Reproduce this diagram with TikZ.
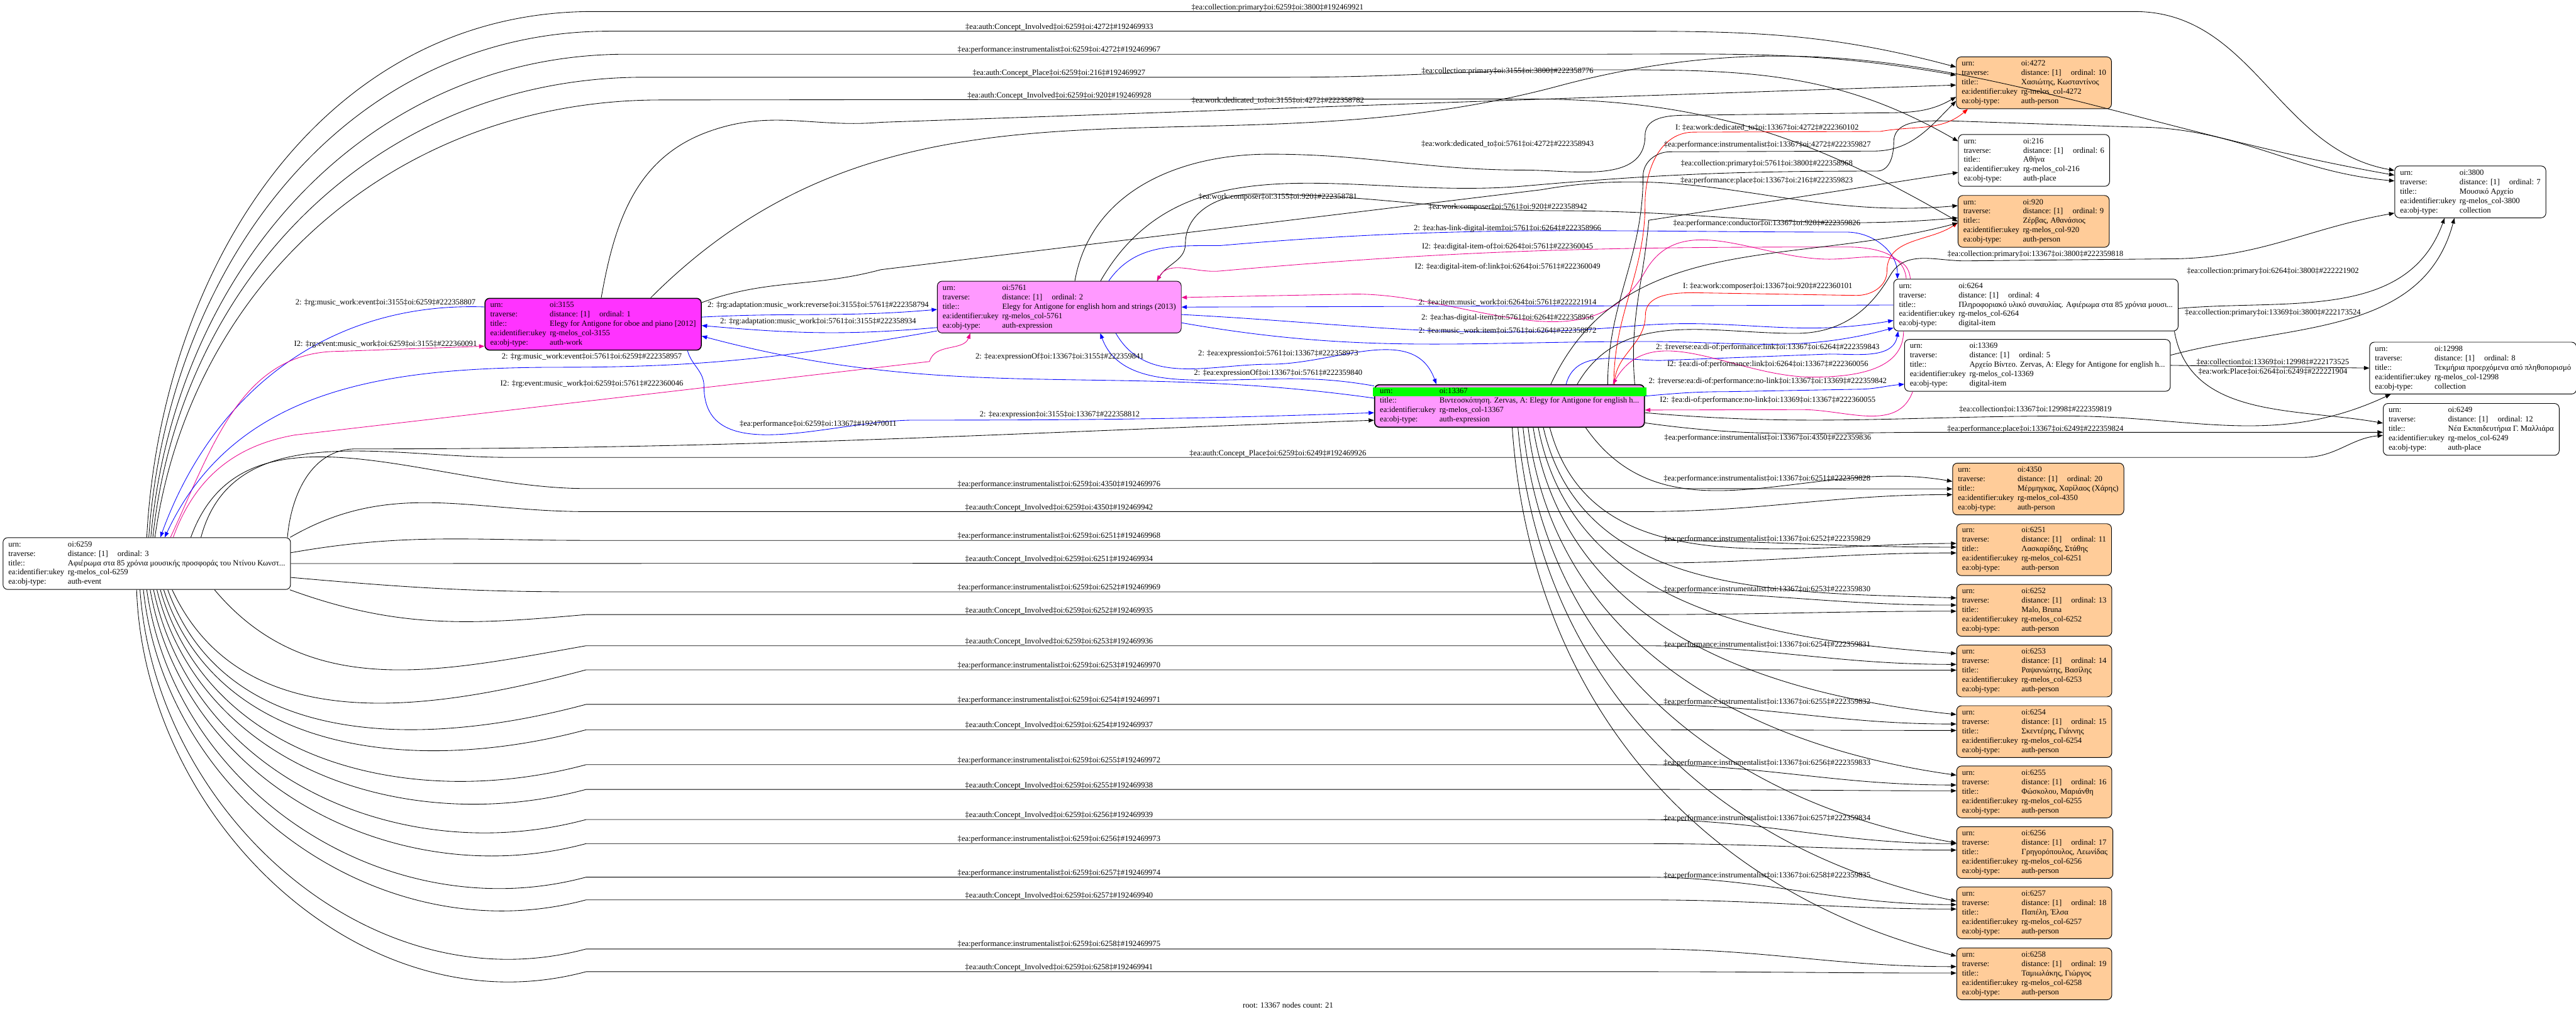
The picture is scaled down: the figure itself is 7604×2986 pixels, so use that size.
\documentclass[tikz,border=0pt]{standalone}
\usepackage{fontspec}
\setmainfont{Liberation Serif}
\usepackage{colortbl}
\usepackage{tikz}
\usetikzlibrary{positioning,calc,arrows.meta}

\definecolor{workfill}{HTML}{FF33FF}
\definecolor{exprfill}{HTML}{FF99FF}
\definecolor{personfill}{HTML}{FFCC99}
\definecolor{rootgreen}{HTML}{00FF00}

\newcommand{\recrows}[5]{%
  \begin{tabular}{@{}l@{\hspace{3pt}}l@{}}
    urn: & oi:#1\\
    traverse: & distance: [1]\hspace{8pt}ordinal: #2\\
    title:: & #3\\
    ea:identifier:ukey & rg-melos\_col-#4\\
    ea:obj-type: & #5
  \end{tabular}}

\begin{document}
\begin{tikzpicture}[x=0.01cm, y=0.01cm,
  font=\fontsize{6.66}{7.9}\selectfont,
  rec/.style={draw, rounded corners=4pt, anchor=north west, fill=white,
              inner xsep=4.5pt, inner ysep=2pt, line width=0.5pt},
  person/.style={rec, fill=personfill},
  lbl/.style={inner sep=0pt},
  link/.style={-{Triangle[length=4.5pt,width=3.4pt]}, line width=0.45pt},
  linkb/.style={link, blue},
  linkm/.style={link, magenta},
  linkr/.style={link, red}
]
\useasboundingbox (0,0) rectangle (7604,-2986);
\fill[white] (0,0) rectangle (7604,-2986);

% records
\node[rec] (n6259) at (8,-1586) {\recrows{6259}{3}{Αφιέρωμα στα 85 χρόνια μουσικής προσφοράς του Ντίνου Κωνστ...}{6259}{auth-event}};
\node[rec, fill=workfill, line width=0.8pt] (n3155) at (1430,-879) {\recrows{3155}{1}{Elegy for Antigone for oboe and piano [2012]}{3155}{auth-work}};
\node[rec, fill=exprfill] (n5761) at (2766,-829) {\recrows{5761}{2}{Elegy for Antigone for english horn and strings (2013)}{5761}{auth-expression}};
\node[rec, fill=exprfill, line width=0.9pt] (n13367) at (4056,-1134) {%
  \begin{tabular}{@{}l@{\hspace{3pt}}l@{}}
    \cellcolor{rootgreen}urn: & \cellcolor{rootgreen}oi:13367\\
    title:: & Βιντεοσκόπηση. Zervas, A: Elegy for Antigone for english h...\\
    ea:identifier:ukey & rg-melos\_col-13367\\
    ea:obj-type: & auth-expression
  \end{tabular}};
\node[person] (n4272) at (5774,-167) {\recrows{4272}{10}{Χασιώτης, Κωσταντίνος}{4272}{auth-person}};
\node[rec] (n216) at (5780,-396) {\recrows{216}{6}{Αθήνα}{216}{auth-place}};
\node[person] (n920) at (5779,-576) {\recrows{920}{9}{Ζέρβας, Αθανάσιος}{920}{auth-person}};
\node[rec] (n3800) at (7068,-489) {\recrows{3800}{7}{Μουσικό Αρχείο}{3800}{collection}};
\node[rec] (n6264) at (5589,-823) {\recrows{6264}{4}{Πληροφοριακό υλικό συναυλίας. Αφιέρωμα στα 85 χρόνια μουσι...}{6264}{digital-item}};
\node[rec] (n13369) at (5621,-1001) {\recrows{13369}{5}{Αρχείο Βίντεο. Zervas, A: Elegy for Antigone for english h...}{13369}{digital-item}};
\node[rec] (n12998) at (6994,-1009) {\recrows{12998}{8}{Τεκμήρια προερχόμενα από πληθοπορισμό}{12998}{collection}};
\node[rec] (n6249) at (7034,-1190) {\recrows{6249}{12}{Νέα Εκπαιδευτήρια Γ. Μαλλιάρα}{6249}{auth-place}};
\node[person] (n4350) at (5763,-1366) {\recrows{4350}{20}{Μέρμηγκας, Χαρίλαος (Χάρης)}{4350}{auth-person}};
\node[person] (n6251) at (5775,-1545) {\recrows{6251}{11}{Λασκαρίδης, Στάθης}{6251}{auth-person}};
\node[person] (n6252) at (5775,-1724) {\recrows{6252}{13}{Malo, Bruna}{6252}{auth-person}};
\node[person] (n6253) at (5775,-1903) {\recrows{6253}{14}{Ραψανιώτης, Βασίλης}{6253}{auth-person}};
\node[person] (n6254) at (5775,-2082) {\recrows{6254}{15}{Σκεντέρης, Γιάννης}{6254}{auth-person}};
\node[person] (n6255) at (5775,-2260) {\recrows{6255}{16}{Φώσκολου, Μαριάνθη}{6255}{auth-person}};
\node[person] (n6256) at (5775,-2439) {\recrows{6256}{17}{Γρηγορόπουλος, Λεωνίδας}{6256}{auth-person}};
\node[person] (n6257) at (5775,-2617) {\recrows{6257}{18}{Παπέλη, Έλσα}{6257}{auth-person}};
\node[person] (n6258) at (5775,-2797) {\recrows{6258}{19}{Ταμιωλάκης, Γιώργος}{6258}{auth-person}};
\node (caption) at (3802,-2967) {root: 13367 nodes count: 21};

% edges out of the event 6259, upper side
\draw[link] (n6259.north) to[out=87,in=180] (1750,-34) -- (6300,-34) to[out=0,in=170] ($(n3800.north west)+(0,-14)$);
\draw[link] ($(n6259.north)+(6,0)$) to[out=86,in=180] (1800,-92) -- (4700,-92) to[out=0,in=165] ($(n4272.north west)+(0,-31)$);
\draw[link] ($(n6259.north)+(12,0)$) to[out=85,in=180] (1850,-160) -- (4700,-160) to[out=0,in=170] ($(n4272.north west)+(0,-55)$);
\draw[link] ($(n6259.north)+(18,0)$) to[out=84,in=180] (1900,-228) -- (3800,-228) to[out=0,in=180] (4700,-206) to[out=0,in=150] ($(n216.north west)+(0,-21)$);
\draw[link] ($(n6259.north)+(24,0)$) to[out=82,in=180] (1950,-295) -- (4500,-292) to[out=0,in=150] ($(n920.north west)+(0,-78)$);
\draw[link] ($(n6259.north east)+(-10,0)$) to[out=85,in=180] (1050,-1325) to[out=0,in=182] ($(n13367.south west)+(0,22)$);
\draw[link] ($(n6259.north)+(160,0)$) to[out=75,in=180] (1500,-1350) -- (6800,-1350) to[out=0,in=185] ($(n6249.north west)+(0,-95)$);

% edges out of the event 6259, to the persons
\draw[link] ($(n6259.north)+(130,0)$) to[out=70,in=180] (1730,-1442) -- (4850,-1442) to[out=0,in=180] ($(n4350.north west)+(0,-77)$);
\draw[link] ($(n6259.north east)+(-2,0)$) to[out=30,in=180] (1730,-1510) -- (4850,-1510) to[out=0,in=180] ($(n4350.north west)+(0,-94)$);
\draw[link] ($(n6259.east)+(0,32)$) to[out=10,in=180] (1730,-1595) -- (4850,-1595) to[out=0,in=180] ($(n6251.north west)+(0,-70)$);
\draw[link] (n6259.east) -- (4850,-1662) to[out=0,in=180] ($(n6251.north west)+(0,-87)$);
\draw[link] ($(n6259.east)+(0,-41)$) to[out=-5,in=180] (1730,-1747) -- (4850,-1747) to[out=0,in=180] ($(n6252.north west)+(0,-62)$);
\draw[link] ($(n6259.south east)+(-3,0)$) to[out=-20,in=185] (1730,-1814) -- (4850,-1814) to[out=0,in=180] ($(n6252.north west)+(0,-80)$);
\draw[link] ($(n6259.south)+(200,0)$) to[out=-50,in=190] (1730,-1906) -- (4850,-1906) to[out=0,in=180] ($(n6253.north west)+(0,-58)$);
\draw[link] ($(n6259.south)+(75,0)$) to[out=-65,in=195] (1730,-1977) -- (4850,-1977) to[out=0,in=180] ($(n6253.north west)+(0,-75)$);
\draw[link] ($(n6259.south)+(62,0)$) to[out=-70,in=195] (1730,-2079) -- (4850,-2079) to[out=0,in=180] ($(n6254.north west)+(0,-55)$);
\draw[link] ($(n6259.south)+(50,0)$) to[out=-72,in=195] (1730,-2154) -- (4850,-2154) to[out=0,in=180] ($(n6254.north west)+(0,-74)$);
\draw[link] ($(n6259.south)+(40,0)$) to[out=-74,in=195] (1730,-2257) -- (4850,-2257) to[out=0,in=180] ($(n6255.north west)+(0,-57)$);
\draw[link] ($(n6259.south)+(30,0)$) to[out=-76,in=195] (1730,-2330) -- (4850,-2330) to[out=0,in=180] ($(n6255.north west)+(0,-74)$);
\draw[link] ($(n6259.south)+(20,0)$) to[out=-78,in=195] (1730,-2419) -- (4850,-2419) to[out=0,in=180] ($(n6256.north west)+(0,-51)$);
\draw[link] ($(n6259.south)+(10,0)$) to[out=-80,in=195] (1730,-2490) -- (4850,-2490) to[out=0,in=180] ($(n6256.north west)+(0,-70)$);
\draw[link] (n6259.south) to[out=-82,in=195] (1730,-2589) -- (4850,-2589) to[out=0,in=180] ($(n6257.north west)+(0,-53)$);
\draw[link] ($(n6259.south)+(-10,0)$) to[out=-84,in=195] (1730,-2656) -- (4850,-2656) to[out=0,in=180] ($(n6257.north west)+(0,-66)$);
\draw[link] ($(n6259.south)+(-20,0)$) to[out=-86,in=195] (1730,-2801) -- (4850,-2801) to[out=0,in=180] ($(n6258.north west)+(0,-56)$);
\draw[link] ($(n6259.south)+(-30,0)$) to[out=-88,in=195] (1730,-2868) -- (4850,-2868) to[out=0,in=180] ($(n6258.north west)+(0,-75)$);

% work 3155
\draw[link] ($(n3155.north)+(170,0)$) to[out=45,in=195] (4600,-254) to[out=15,in=170] ($(n3800.north west)+(0,-28)$);
\draw[link] ($(n3155.north)+(24,0)$) to[out=80,in=200] (2090,-389) to[out=20,in=185] (2600,-361) -- (4600,-291) -- ($(n4272.north west)+(0,-84)$);
\draw[link] ($(n3155.north east)+(0,-14)$) to[out=20,in=195] (2600,-796) -- (4550,-560) to[out=10,in=185] ($(n920.north west)+(0,-31)$);
\draw[linkb] ($(n3155.east)+(0,21)$) to[out=3,in=185] ($(n5761.west)+(0,-7)$);
\draw[linkb] ($(n5761.south west)+(0,17)$) to[out=185,in=-5] ($(n3155.east)+(0,-4)$);
\draw[linkb] ($(n13367.west)+(0,23)$) to[out=172,in=-15] ($(n3155.east)+(0,-35)$);
\draw[linkb] ($(n3155.south east)+(-42,0)$) to[out=-75,in=90] (2078,-1140) to[out=-90,in=180] (2700,-1240) to[out=0,in=182] ($(n13367.west)+(0,-20)$);
\draw[linkb] ($(n3155.west)+(0,51)$) to[out=178,in=70] ($(n6259.north)+(40,0)$);
\draw[linkm] ($(n6259.north)+(70,0)$) to[out=65,in=180] (1000,-1037) -- ($(n3155.south west)+(0,13)$);
\draw[linkb] ($(n5761.south west)+(0,7)$) to[out=190,in=0] (1658,-1084) to[out=180,in=65] ($(n6259.north)+(53,0)$);
\draw[linkm] ($(n6259.north)+(78,0)$) to[out=70,in=190] (870,-1284) -- (2744,-1067) to[out=75,in=-110] ($(n5761.south west)+(98,0)$);

% expression 5761
\draw[link] ($(n5761.north)+(46,0)$) to[out=80,in=180] (3748,-455) to[out=0,in=180] (4500,-502) to[out=0,in=-90] (4856,-400) to[out=90,in=180] (5000,-340) -- (5545,-333) to[out=0,in=210] ($(n4272.north west)+(0,-119)$);
\draw[link] ($(n5761.north)+(290,0)$) to[out=70,in=-90] (3499,-720) to[out=90,in=180] (3700,-573) to[out=0,in=180] (4600,-622) to[out=0,in=185] ($(n920.north west)+(0,-67)$);
\draw[link] ($(n5761.north)+(122,0)$) to[out=60,in=185] (4500,-549) to[out=5,in=180] (5540,-505) to[out=0,in=-90] (5590,-420) to[out=90,in=180] (5763,-357) -- (6300,-375) to[out=0,in=175] ($(n3800.north west)+(0,-45)$);
\draw[linkb] ($(n5761.north)+(146,0)$) to[out=55,in=180] (3600,-725) to[out=5,in=180] (5450,-685) to[out=0,in=90] ($(n6264.north west)+(12,0)$);
\draw[linkm] ($(n6264.north west)+(38,0)$) to[out=95,in=0] (5450,-729) to[out=180,in=5] (3600,-800) to[out=185,in=60] ($(n5761.north)+(288,0)$);
\draw[linkm] ($(n6264.north west)+(50,0)$) to[out=95,in=0] (5400,-765) to[out=180,in=60] (4857,-800) to[out=240,in=0] (4000,-868) -- ($(n5761.north east)+(0,-49)$);
\draw[linkb] (n6264.west) -- (n5761.east);
\draw[linkb] ($(n5761.east)+(0,-22)$) to[out=-3,in=185] (4824,-962) to[out=5,in=190] ($(n6264.south west)+(0,32)$);
\draw[linkb] ($(n5761.south east)+(0,31)$) to[out=-10,in=180] (4857,-1008) to[out=0,in=195] ($(n6264.south west)+(0,10)$);
\draw[linkb] ($(n5761.south)+(167,0)$) to[out=-60,in=180] (3750,-1075) to[out=0,in=110] ($(n13367.north west)+(184,0)$);
\draw[linkb] ($(n13367.north west)+(0,-5)$) to[out=170,in=0] (3560,-1122) to[out=180,in=-70] ($(n5761.south)+(121,0)$);

% root expression 13367
\draw[linkr] ($(n13367.north)+(308,0)$) to[out=90,in=-90] (4856,-600) to[out=90,in=180] (5000,-390) -- (5550,-388) to[out=10,in=220] ($(n4272.south west)+(35,0)$);
\draw[linkr] ($(n13367.north)+(310,0)$) to[out=90,in=-90] (4857,-930) to[out=90,in=180] (5000,-864) -- (5480,-872) to[out=0,in=-90] (5570,-800) to[out=90,in=215] ($(n920.north west)+(0,-81)$);
\draw[link] ($(n13367.north)+(290,0)$) to[out=90,in=-90] (4850,-520) to[out=90,in=180] (4930,-448) -- (5530,-446) to[out=0,in=225] ($(n4272.north west)+(0,-131)$);
\draw[link] ($(n13367.north east)+(-30,0)$) to[out=95,in=-95] (4867,-650) -- ($(n216.north west)+(0,-113)$);
\draw[link] ($(n13367.north)+(122,0)$) to[out=65,in=195] ($(n920.north west)+(0,-82)$);
\draw[link] ($(n13367.north)+(200,0)$) to[out=60,in=180] (5300,-984) to[out=0,in=-120] (5580,-812) to[out=60,in=180] (5800,-770) -- (6400,-764) to[out=0,in=190] ($(n3800.north west)+(0,-140)$);
\draw[linkb] ($(n13367.north)+(167,0)$) to[out=75,in=180] (4900,-1064) -- (5400,-1045) to[out=0,in=-100] ($(n6264.south west)+(14,0)$);
\draw[linkm] ($(n6264.south west)+(30,0)$) to[out=-90,in=0] (5350,-1113) to[out=180,in=60] ($(n13367.north)+(305,0)$);
\draw[linkb] ($(n13367.north east)+(0,-35)$) to[out=5,in=180] (5100,-1156) -- (5480,-1149) to[out=0,in=185] ($(n13369.north west)+(0,-133)$);
\draw[linkm] ($(n13369.south west)+(25,0)$) to[out=-110,in=0] (5320,-1209) -- ($(n13367.east)+(0,-12)$);
\draw[link] ($(n13367.east)+(0,-20)$) to[out=-5,in=180] (6100,-1228) to[out=0,in=-155] ($(n12998.south west)+(63,0)$);
\draw[link] ($(n13367.east)+(0,-50)$) to[out=-8,in=180] (5700,-1276) -- ($(n6249.north west)+(0,-86)$);
\draw[link] ($(n13367.south)+(225,0)$) to[out=-55,in=170] ($(n4350.north west)+(0,-55)$);
\draw[link] ($(n13367.south)+(119,0)$) to[out=-75,in=180] ($(n6251.north west)+(0,-59)$);
\draw[link] ($(n13367.south)+(100,0)$) to[out=-77,in=178] ($(n6252.north west)+(0,-41)$);
\draw[link] ($(n13367.south)+(85,0)$) to[out=-79,in=176] ($(n6253.north west)+(0,-26)$);
\draw[link] ($(n13367.south)+(70,0)$) to[out=-81,in=174] ($(n6254.north west)+(0,-27)$);
\draw[link] ($(n13367.south)+(55,0)$) to[out=-83,in=172] ($(n6255.north west)+(0,-28)$);
\draw[link] ($(n13367.south)+(40,0)$) to[out=-84,in=170] ($(n6256.north west)+(0,-49)$);
\draw[link] ($(n13367.south)+(25,0)$) to[out=-85,in=168] ($(n6257.north west)+(0,-43)$);
\draw[link] ($(n13367.south)+(8,0)$) to[out=-86,in=166] ($(n6258.north west)+(0,-25)$);

% digital items
\draw[link] ($(n6264.east)+(0,-10)$) to[out=5,in=-110] ($(n3800.south west)+(148,0)$);
\draw[link] ($(n13369.east)+(0,30)$) to[out=15,in=-105] ($(n3800.south west)+(177,0)$);
\draw[link] (n13369.east) -- (n12998.west);
\draw[link] ($(n6264.south east)+(-12,0)$) to[out=-80,in=170] ($(n6249.north west)+(0,-59)$);

% edge labels
\node[lbl] (l01) at (3771,-24) {‡ea:collection:primary‡oi:6259‡oi:3800‡\#192469921};
\node[lbl] (l02) at (3127,-81) {‡ea:auth:Concept\_Involved‡oi:6259‡oi:4272‡\#192469933};
\node[lbl] (l03) at (3126,-148) {‡ea:performance:instrumentalist‡oi:6259‡oi:4272‡\#192469967};
\node[lbl] (l04) at (3126,-216) {‡ea:auth:Concept\_Place‡oi:6259‡oi:216‡\#192469927};
\node[lbl] (l05) at (3127,-283) {‡ea:auth:Concept\_Involved‡oi:6259‡oi:920‡\#192469928};
\node[lbl] (l06) at (4450,-211) {‡ea:collection:primary‡oi:3155‡oi:3800‡\#222358776};
\node[lbl] (l07) at (3772,-297) {‡ea:work:dedicated\_to‡oi:3155‡oi:4272‡\#222358782};
\node[lbl] (l08) at (4450,-425) {‡ea:work:dedicated\_to‡oi:5761‡oi:4272‡\#222358943};
\node[lbl] (l09) at (3772,-582) {‡ea:work:composer‡oi:3155‡oi:920‡\#222358781};
\node[lbl] (l10) at (4451,-612) {‡ea:work:composer‡oi:5761‡oi:920‡\#222358942};
\node[lbl] (l11) at (4450,-674) {2: ‡ea:has-link-digital-item‡oi:5761‡oi:6264‡\#222358966};
\node[lbl] (l12) at (4450,-728) {I2: ‡ea:digital-item-of‡oi:6264‡oi:5761‡\#222360045};
\node[lbl] (l13) at (4450,-788) {I2: ‡ea:digital-item-of:link‡oi:6264‡oi:5761‡\#222360049};
\node[lbl] (l14) at (4450,-892) {2: ‡ea:item:music\_work‡oi:6264‡oi:5761‡\#222221914};
\node[lbl] (l15) at (4450,-939) {2: ‡ea:has-digital-item‡oi:5761‡oi:6264‡\#222358956};
\node[lbl] (l16) at (4450,-977) {2: ‡ea:music\_work:item‡oi:5761‡oi:6264‡\#222358972};
\node[lbl] (l17) at (3773,-1044) {2: ‡ea:expression‡oi:5761‡oi:13367‡\#222358973};
\node[lbl] (l18) at (3773,-1101) {2: ‡ea:expressionOf‡oi:13367‡oi:5761‡\#222359840};
\node[lbl] (l19) at (3128,-1054) {2: ‡ea:expressionOf‡oi:13367‡oi:3155‡\#222359841};
\node[lbl] (l20) at (3128,-1224) {2: ‡ea:expression‡oi:3155‡oi:13367‡\#222358812};
\node[lbl] (l21) at (2415,-1252) {‡ea:performance‡oi:6259‡oi:13367‡\#192470011};
\node[lbl] (l22) at (1138,-893) {2: ‡rg:music\_work:event‡oi:3155‡oi:6259‡\#222358807};
\node[lbl] (l23) at (1138,-1016) {I2: ‡rg:event:music\_work‡oi:6259‡oi:3155‡\#222360091};
\node[lbl] (l24) at (1747,-1053) {2: ‡rg:music\_work:event‡oi:5761‡oi:6259‡\#222358957};
\node[lbl] (l25) at (1747,-1134) {I2: ‡rg:event:music\_work‡oi:6259‡oi:5761‡\#222360046};
\node[lbl] (l26) at (2415,-902) {2: ‡rg:adaptation:music\_work:reverse‡oi:3155‡oi:5761‡\#222358794};
\node[lbl] (l27) at (2415,-949) {2: ‡rg:adaptation:music\_work‡oi:5761‡oi:3155‡\#222358934};
\node[lbl] (l28) at (5216,-377) {I: ‡ea:work:dedicated\_to‡oi:13367‡oi:4272‡\#222360102};
\node[lbl] (l29) at (5217,-428) {‡ea:performance:instrumentalist‡oi:13367‡oi:4272‡\#222359827};
\node[lbl] (l30) at (5215,-483) {‡ea:collection:primary‡oi:5761‡oi:3800‡\#222358968};
\node[lbl] (l31) at (5215,-533) {‡ea:performance:place‡oi:13367‡oi:216‡\#222359823};
\node[lbl] (l32) at (5215,-660) {‡ea:performance:conductor‡oi:13367‡oi:920‡\#222359826};
\node[lbl] (l33) at (5218,-846) {I: ‡ea:work:composer‡oi:13367‡oi:920‡\#222360101};
\node[lbl] (l34) at (5218,-1025) {2: ‡reverse:ea:di-of:performance:link‡oi:13367‡oi:6264‡\#222359843};
\node[lbl] (l35) at (5218,-1076) {I2: ‡ea:di-of:performance:link‡oi:6264‡oi:13367‡\#222360056};
\node[lbl] (l36) at (5218,-1126) {2: ‡reverse:ea:di-of:performance:no-link‡oi:13367‡oi:13369‡\#222359842};
\node[lbl] (l37) at (5218,-1181) {I2: ‡ea:di-of:performance:no-link‡oi:13369‡oi:13367‡\#222360055};
\node[lbl] (l38) at (5218,-1293) {‡ea:performance:instrumentalist‡oi:13367‡oi:4350‡\#222359836};
\node[lbl] (l39) at (6008,-750) {‡ea:collection:primary‡oi:13367‡oi:3800‡\#222359818};
\node[lbl] (l40) at (6709,-801) {‡ea:collection:primary‡oi:6264‡oi:3800‡\#222221902};
\node[lbl] (l41) at (6709,-923) {‡ea:collection:primary‡oi:13369‡oi:3800‡\#222173524};
\node[lbl] (l42) at (6709,-1069) {‡ea:collection‡oi:13369‡oi:12998‡\#222173525};
\node[lbl] (l43) at (6709,-1097) {‡ea:work:Place‡oi:6264‡oi:6249‡\#222221904};
\node[lbl] (l44) at (6008,-1208) {‡ea:collection‡oi:13367‡oi:12998‡\#222359819};
\node[lbl] (l45) at (6008,-1266) {‡ea:performance:place‡oi:13367‡oi:6249‡\#222359824};
\node[lbl] (l46) at (3772,-1340) {‡ea:auth:Concept\_Place‡oi:6259‡oi:6249‡\#192469926};
\node[lbl] (l47) at (3126,-1431) {‡ea:performance:instrumentalist‡oi:6259‡oi:4350‡\#192469976};
\node[lbl] (l48) at (3126,-1499) {‡ea:auth:Concept\_Involved‡oi:6259‡oi:4350‡\#192469942};
\node[lbl] (l49) at (3126,-1583) {‡ea:performance:instrumentalist‡oi:6259‡oi:6251‡\#192469968};
\node[lbl] (l50) at (3126,-1652) {‡ea:auth:Concept\_Involved‡oi:6259‡oi:6251‡\#192469934};
\node[lbl] (l51) at (3126,-1735) {‡ea:performance:instrumentalist‡oi:6259‡oi:6252‡\#192469969};
\node[lbl] (l52) at (3126,-1803) {‡ea:auth:Concept\_Involved‡oi:6259‡oi:6252‡\#192469935};
\node[lbl] (l53) at (3126,-1895) {‡ea:auth:Concept\_Involved‡oi:6259‡oi:6253‡\#192469936};
\node[lbl] (l54) at (3126,-1965) {‡ea:performance:instrumentalist‡oi:6259‡oi:6253‡\#192469970};
\node[lbl] (l55) at (3126,-2067) {‡ea:performance:instrumentalist‡oi:6259‡oi:6254‡\#192469971};
\node[lbl] (l56) at (3126,-2141) {‡ea:auth:Concept\_Involved‡oi:6259‡oi:6254‡\#192469937};
\node[lbl] (l57) at (3126,-2246) {‡ea:performance:instrumentalist‡oi:6259‡oi:6255‡\#192469972};
\node[lbl] (l58) at (3126,-2319) {‡ea:auth:Concept\_Involved‡oi:6259‡oi:6255‡\#192469938};
\node[lbl] (l59) at (3126,-2407) {‡ea:auth:Concept\_Involved‡oi:6259‡oi:6256‡\#192469939};
\node[lbl] (l60) at (3126,-2477) {‡ea:performance:instrumentalist‡oi:6259‡oi:6256‡\#192469973};
\node[lbl] (l61) at (3126,-2577) {‡ea:performance:instrumentalist‡oi:6259‡oi:6257‡\#192469974};
\node[lbl] (l62) at (3126,-2644) {‡ea:auth:Concept\_Involved‡oi:6259‡oi:6257‡\#192469940};
\node[lbl] (l63) at (3126,-2788) {‡ea:performance:instrumentalist‡oi:6259‡oi:6258‡\#192469975};
\node[lbl] (l64) at (3126,-2856) {‡ea:auth:Concept\_Involved‡oi:6259‡oi:6258‡\#192469941};
\node[lbl] (l65) at (5216,-1414) {‡ea:performance:instrumentalist‡oi:13367‡oi:6251‡\#222359828};
\node[lbl] (l66) at (5216,-1592) {‡ea:performance:instrumentalist‡oi:13367‡oi:6252‡\#222359829};
\node[lbl] (l67) at (5216,-1741) {‡ea:performance:instrumentalist‡oi:13367‡oi:6253‡\#222359830};
\node[lbl] (l68) at (5216,-1903) {‡ea:performance:instrumentalist‡oi:13367‡oi:6254‡\#222359831};
\node[lbl] (l69) at (5216,-2073) {‡ea:performance:instrumentalist‡oi:13367‡oi:6255‡\#222359832};
\node[lbl] (l70) at (5216,-2252) {‡ea:performance:instrumentalist‡oi:13367‡oi:6256‡\#222359833};
\node[lbl] (l71) at (5216,-2416) {‡ea:performance:instrumentalist‡oi:13367‡oi:6257‡\#222359834};
\node[lbl] (l72) at (5216,-2584) {‡ea:performance:instrumentalist‡oi:13367‡oi:6258‡\#222359835};
\end{tikzpicture}
\end{document}
